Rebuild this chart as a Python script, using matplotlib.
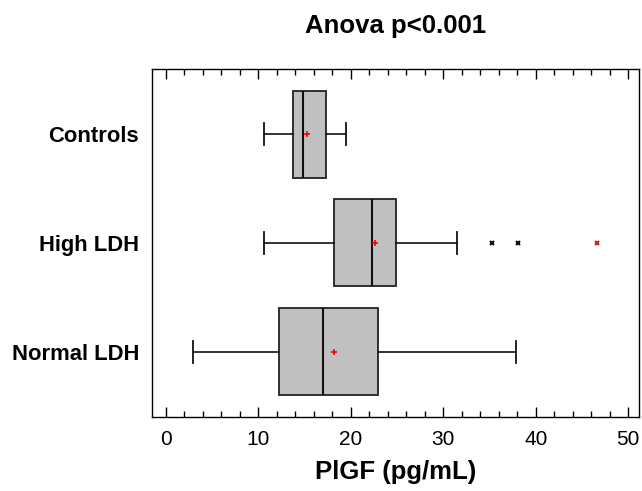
import matplotlib.pyplot as plt

plt.rcParams['font.family'] = ['Liberation Sans', 'DejaVu Sans']

# groups, bottom to top
groups = ['Normal LDH', 'High LDH', 'Controls']
whislo = [3.0, 10.6, 10.6]
q1 = [12.3, 18.15, 13.75]
med = [17.05, 22.3, 14.8]
q3 = [23.0, 24.9, 17.3]
whishi = [37.85, 31.5, 19.5]
means = [18.15, 22.65, 15.3]
outliers = [[], [35.3, 38.1], []]
far_outliers = [[], [46.6], []]

stats = []
for i in range(len(groups)):
    stats.append(dict(label=groups[i], whislo=whislo[i], q1=q1[i], med=med[i],
                      q3=q3[i], whishi=whishi[i], mean=means[i], fliers=outliers[i]))

fig = plt.figure(figsize=(6.42, 4.91), dpi=100)
ax = fig.add_axes([0.2363, 0.1507, 0.7597, 0.7088])

pos = [1, 2, 3]
ax.bxp(stats, positions=pos, vert=False, widths=0.8, capwidths=0.2,
       patch_artist=True, showmeans=True,
       boxprops=dict(facecolor='#c0c0c0', edgecolor='#222222', linewidth=1.3),
       medianprops=dict(color='#111111', linewidth=1.5),
       whiskerprops=dict(color='#111111', linewidth=1.2),
       capprops=dict(color='#111111', linewidth=1.3),
       meanprops=dict(marker='+', markeredgecolor='red', markersize=5, markeredgewidth=1.2),
       flierprops=dict(marker='x', markeredgecolor='#111111', markersize=3, markeredgewidth=1.5))

# far outside points
for p, vals in zip(pos, far_outliers):
    for v in vals:
        ax.plot(v, p, marker='x', color='#cc2222', ms=3, mew=1.5)

ax.set_xlim(-1.5, 51.2)
ax.set_ylim(0.4, 3.6)
ax.set_xticks([0, 10, 20, 30, 40, 50])
ax.set_xticks(range(0, 51, 2), minor=True)
ax.set_yticks(pos)
ax.set_yticklabels(groups, fontsize=15.8, fontweight='bold')
ax.tick_params(axis='x', which='both', direction='in', top=True, labelsize=15, pad=9, width=1)
ax.tick_params(axis='x', which='major', length=7)
ax.tick_params(axis='x', which='minor', length=4)
ax.tick_params(axis='y', length=0, pad=9)
for s in ax.spines.values():
    s.set_linewidth(1)

ax.set_xlabel('PlGF (pg/mL)', fontsize=18.5, fontweight='bold', labelpad=8)
ax.set_title('Anova p<0.001', fontsize=18.5, fontweight='bold', pad=26)

fig.savefig('out.png', dpi=100)
